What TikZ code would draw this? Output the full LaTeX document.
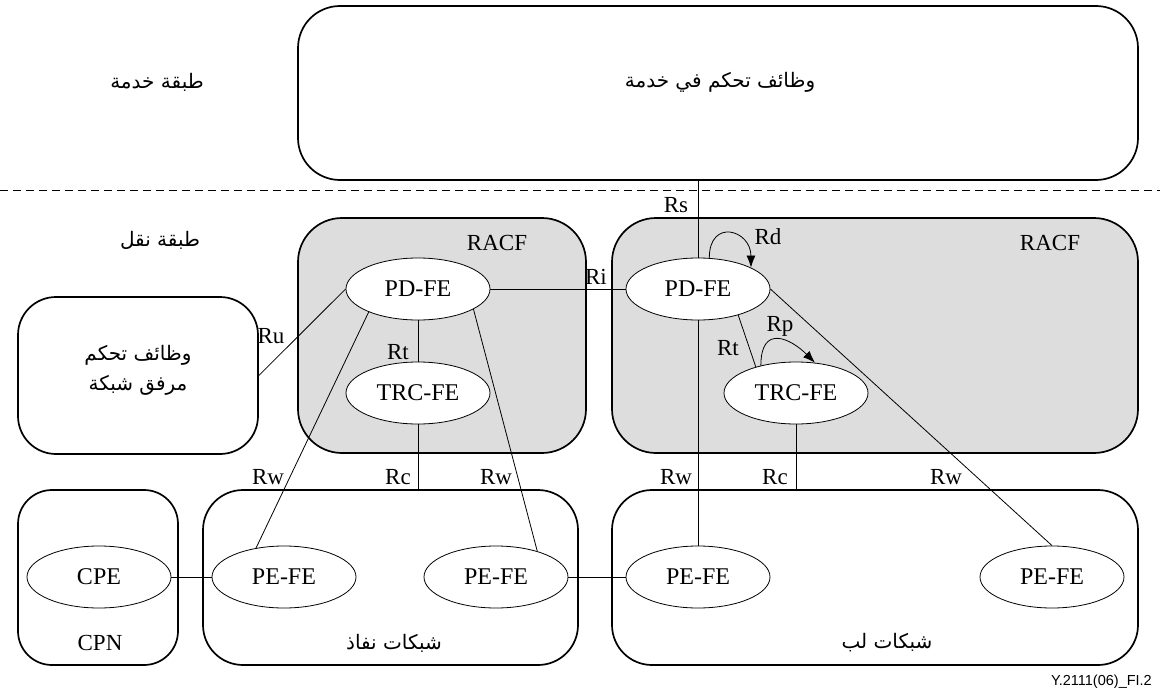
\documentclass[tikz,border=0pt]{standalone}
\usepackage{fontspec}
\setmainfont{Liberation Serif}
\newfontfamily\arabicfont[Script=Arabic]{DejaVu Sans}
\newfontfamily\footfont{Liberation Sans}
\TeXXeTstate=1
\usetikzlibrary{shapes.geometric,arrows.meta}
\newcommand\artxt[1]{{\arabicfont\beginR #1\endR}}

\tikzset{
  panel/.style={draw, line width=1.7pt, rounded corners=#1, inner sep=0pt},
  racf/.style={panel=44pt, fill=racfgray},
  fe/.style={draw, ellipse, fill=white, line width=0.8pt, inner sep=0pt,
             minimum width=144pt, minimum height=62pt,
             font=\fontsize{24}{28}\selectfont},
  lbl/.style={inner sep=1pt, font=\fontsize{23}{27}\selectfont},
  artx/.style={inner sep=1pt, font=\fontsize{20}{30}\selectfont, align=center},
  link/.style={line width=0.8pt},
  loop/.style={line width=0.8pt, -{Latex[length=12pt,width=9pt]}},
}
\definecolor{racfgray}{RGB}{221,221,221}

\begin{document}
\begin{tikzpicture}[x=1pt,y=-1pt]
\useasboundingbox (0,0) rectangle (1160,693);

% layer frames
\node[panel=42pt, minimum width=840pt, minimum height=174pt] (svc) at (718,93) {};
\node[racf, minimum width=288pt, minimum height=235pt] (racfL) at (442,335.5) {};
\node[racf, minimum width=526pt, minimum height=235pt] (racfR) at (875,335.5) {};
\node[panel=38pt, minimum width=240pt, minimum height=157pt] (nfc) at (138,375.5) {};
\node[panel=34pt, minimum width=160pt, minimum height=175pt] (cpn) at (98,577.5) {};
\node[panel=40pt, minimum width=375pt, minimum height=175pt] (acc) at (390.5,577.5) {};
\node[panel=40pt, minimum width=526pt, minimum height=175pt] (core) at (875,577.5) {};

% stratum boundary
\coordinate (dl) at (0,190);
\coordinate (dr) at (1160,190);
\draw[link, dash pattern=on 8pt off 5pt] (dl) -- (dr);

% functional entities
\node[fe] (lpd) at (418,289) {PD-FE};
\node[fe] (ltrc) at (418,393) {TRC-FE};
\node[fe] (rpd) at (698,289) {PD-FE};
\node[fe] (rtrc) at (796,393) {TRC-FE};
\node[fe] (cpe) at (99,577) {CPE};
\node[fe] (lpe1) at (284,577) {PE-FE};
\node[fe] (lpe2) at (496,577) {PE-FE};
\node[fe] (rpe1) at (698,577) {PE-FE};
\node[fe] (rpe2) at (1052,577) {PE-FE};

% reference points
\draw[link] (svc.south -| rpd.north) -- (rpd.north);
\draw[link] (lpd.east) -- (rpd.west);
\draw[link] (nfc.east) -- (lpd.west);
\draw[link] (lpd.south) -- (ltrc.north);
\draw[link] (ltrc.south) -- (ltrc.south |- acc.north);
\draw[link] (lpd.-155) -- (lpe1.134);
\draw[link] (lpd.-20) -- (lpe2.32);
\draw[link] (rpd.-33) -- (rtrc.147);
\draw[link] (rpd.south) -- (rpe1.north);
\draw[link] (rtrc.south) -- (rtrc.south |- core.north);
\draw[link] (rpd.east) -- (rpe2.north);
\draw[link] (cpe.east) -- (lpe1.west);
\draw[link] (lpe2.east) -- (rpe1.west);
\draw[loop] (rpd.70) .. controls +(0,-40) and +(0,-38) .. (rpd.22);
\draw[loop] (rtrc.142) .. controls +(0,-42) and +(-24,-24) .. (rtrc.58);

% reference point labels
\node[lbl] (lRs) at (676,205) {Rs};
\node[lbl] (lRd) at (768,237) {Rd};
\node[lbl] (lRi) at (596,277) {Ri};
\node[lbl] (lRu) at (271,336) {Ru};
\node[lbl] (lRtL) at (398,352) {Rt};
\node[lbl] (lRtR) at (728,348) {Rt};
\node[lbl] (lRp) at (780,326) {Rp};
\node[lbl] (lRw1) at (268,477) {Rw};
\node[lbl] (lRc1) at (398,477) {Rc};
\node[lbl] (lRw2) at (496,477) {Rw};
\node[lbl] (lRw3) at (676,477) {Rw};
\node[lbl] (lRc2) at (775,477) {Rc};
\node[lbl] (lRw4) at (946,477) {Rw};
\node[lbl] (lRacfL) at (497,243) {RACF};
\node[lbl] (lRacfR) at (1050,243) {RACF};
\node[lbl] (lCpn) at (100,643) {CPN};

% Arabic texts
\node[artx] (tSvcStr) at (157,82) {\artxt{طبقة خدمة}};
\node[artx] (tTrStr) at (160,240) {\artxt{طبقة نقل}};
\node[artx] (tSvc) at (720,82) {\artxt{وظائف تحكم في خدمة}};
\node[artx] (tNfc) at (138,370) {\artxt{وظائف تحكم}\\\artxt{مرفق شبكة}};
\node[artx] (tAcc) at (394,643) {\artxt{شبكات نفاذ}};
\node[artx] (tCore) at (887,643) {\artxt{شبكات لب}};

% figure code
\node[anchor=east, inner sep=0pt, font=\footfont\fontsize{14.5}{17}\selectfont] (fig) at (1152,682) {Y.2111(06)\_FI.2};
\end{tikzpicture}
\end{document}
